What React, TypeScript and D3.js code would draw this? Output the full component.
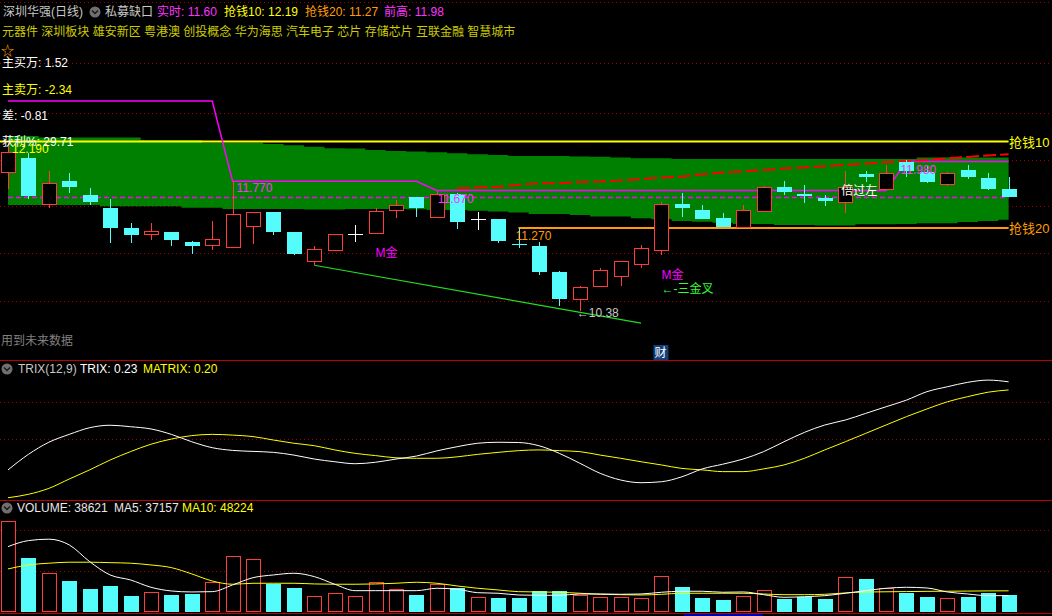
import React from "react";
import * as d3 from "d3";

// daily candles (50 sessions)
const opens = [11.87, 12.02, 11.53, 11.77, 11.62, 11.48, 11.27, 11.21, 11.23, 11.12, 11.09, 11.07, 11.295, 11.44, 11.23, 10.92, 11.03, 11.21, 11.22, 11.46, 11.605, 11.39, 11.63, 11.36, 11.37, 11.1, 11.08, 10.8, 10.51, 10.65, 10.76, 10.88, 11.03, 11.53, 11.46, 11.38, 11.28, 11.455, 11.71, 11.63, 11.59, 11.55, 11.85, 11.69, 11.98, 11.87, 11.74, 11.89, 11.805, 11.69];
const closes = [12.08, 11.61, 11.75, 11.71, 11.55, 11.27, 11.19, 11.24, 11.145, 11.08, 11.15, 11.42, 11.44, 11.23, 10.995, 11.04, 11.21, 11.21, 11.45, 11.52, 11.48, 11.63, 11.33, 11.36, 11.13, 11.09, 10.8, 10.51, 10.64, 10.82, 10.92, 11.05, 11.53, 11.48, 11.37, 11.28, 11.46, 11.71, 11.65, 11.61, 11.56, 11.71, 11.81, 11.86, 11.88, 11.76, 11.86, 11.82, 11.69, 11.6];
const highs = [12.19, 12.07, 11.88, 11.86, 11.7, 11.58, 11.32, 11.32, 11.23, 11.13, 11.345, 11.77, 11.44, 11.44, 11.23, 11.08, 11.21, 11.3, 11.48, 11.57, 11.605, 11.67, 11.64, 11.44, 11.37, 11.27, 11.12, 10.81, 10.65, 10.84, 10.92, 11.085, 11.55, 11.64, 11.52, 11.43, 11.51, 11.72, 11.77, 11.73, 11.62, 11.88, 11.88, 11.94, 12.0, 11.93, 11.87, 11.945, 11.86, 11.815];
const lows = [11.69, 11.58, 11.48, 11.645, 11.51, 11.11, 11.11, 11.145, 11.08, 10.995, 11.03, 11.05, 11.1, 11.195, 10.98, 10.874, 11.03, 11.12, 11.22, 11.38, 11.39, 11.38, 11.26, 11.25, 11.11, 11.06, 10.77, 10.43, 10.38, 10.64, 10.65, 10.845, 10.98, 11.39, 11.36, 11.28, 11.28, 11.455, 11.62, 11.54, 11.5, 11.43, 11.76, 11.69, 11.81, 11.75, 11.72, 11.795, 11.68, 11.6];

// green channel
const bandUpper = [12.255, 12.255, 12.237, 12.237, 12.237, 12.237, 12.237, 12.212, 12.212, 12.212, 12.183, 12.183, 12.183, 12.169, 12.155, 12.14, 12.123, 12.121, 12.105, 12.094, 12.089, 12.081, 12.07, 12.059, 12.052, 12.041, 12.041, 12.041, 12.036, 12.033, 12.025, 12.016, 12.016, 12.009, 12.009, 12.009, 12.009, 12.009, 12.009, 12.009, 12.009, 12.009, 12.009, 12.009, 12.009, 12.023, 12.023, 12.023, 12.023, 12.023];
const bandLower = [11.516, 11.516, 11.516, 11.516, 11.516, 11.502, 11.502, 11.502, 11.502, 11.487, 11.487, 11.473, 11.473, 11.473, 11.473, 11.466, 11.466, 11.473, 11.473, 11.473, 11.47, 11.463, 11.463, 11.455, 11.445, 11.434, 11.42, 11.42, 11.409, 11.391, 11.391, 11.374, 11.363, 11.345, 11.337, 11.324, 11.313, 11.313, 11.302, 11.302, 11.295, 11.295, 11.31, 11.31, 11.313, 11.32, 11.32, 11.334, 11.345, 11.356];

// 私募缺口 prior-high level
const priorHigh = [12.63, 12.63, 12.63, 12.63, 12.63, 12.63, 12.63, 12.63, 12.63, 12.63, 12.63, 11.77, 11.77, 11.77, 11.77, 11.77, 11.77, 11.77, 11.77, 11.77, 11.77, 11.67, 11.67, 11.67, 11.67, 11.67, 11.67, 11.67, 11.67, 11.67, 11.67, 11.67, 11.67, 11.67, 11.67, 11.67, 11.67, 11.67, 11.67, 11.67, 11.67, 11.67, 11.67, 11.67, 11.98, 11.98, 11.98, 11.98, 11.98, 11.98];

// red rising line, starts at session 22
const redStart = 22;
const redLine = [11.695, 11.704, 11.712, 11.73, 11.749, 11.749, 11.762, 11.766, 11.779, 11.791, 11.811, 11.819, 11.845, 11.864, 11.875, 11.891, 11.905, 11.918, 11.931, 11.945, 11.958, 11.973, 11.987, 11.998, 12.016, 12.03, 12.046, 12.059];

// green support line [session, price]
const supportLine: [number, number][] = [[15, 10.87], [31, 10.25]];

const mainGrid = [13.69, 13.04, 12.5, 12.0, 11.5, 11.0, 10.49];
const qiang10 = 12.19;
const qiang20 = 11.27;
const current = 11.6;

// TRIX(12,9)
const trix = [-0.124, -0.061, -0.012, 0.02, 0.047, 0.057, 0.051, 0.042, 0.02, -0.01, -0.034, -0.045, -0.049, -0.053, -0.064, -0.08, -0.091, -0.099, -0.093, -0.08, -0.068, -0.047, -0.03, -0.016, -0.012, -0.013, -0.026, -0.057, -0.097, -0.138, -0.165, -0.176, -0.172, -0.152, -0.12, -0.101, -0.08, -0.05, -0.01, 0.028, 0.058, 0.078, 0.105, 0.132, 0.159, 0.193, 0.213, 0.231, 0.24, 0.233];
const matrix = [-0.237, -0.223, -0.199, -0.161, -0.124, -0.084, -0.05, -0.02, 0.001, 0.015, 0.02, 0.017, 0.011, -0.003, -0.016, -0.026, -0.043, -0.057, -0.066, -0.075, -0.077, -0.077, -0.071, -0.061, -0.053, -0.046, -0.043, -0.046, -0.05, -0.064, -0.077, -0.091, -0.104, -0.118, -0.124, -0.131, -0.131, -0.12, -0.104, -0.077, -0.043, -0.01, 0.024, 0.058, 0.092, 0.123, 0.152, 0.173, 0.191, 0.2];
const trixGrid = [0, 0.15];

// volume
const volumes = [210500, 123500, 88800, 71000, 52500, 59400, 36300, 44900, 38600, 40900, 68000, 128100, 121200, 64800, 54800, 35600, 42600, 35600, 68000, 51800, 38600, 63400, 54100, 33300, 31700, 31700, 47900, 47900, 38600, 33300, 33300, 31000, 81900, 57100, 31700, 27100, 35600, 49500, 29400, 33300, 29400, 79600, 75600, 54100, 43900, 34000, 31000, 34000, 42600, 38621];
const volMa5 = [150300, 164200, 167500, 154300, 115600, 84900, 73300, 56400, 47900, 45600, 46300, 61800, 78600, 84900, 88800, 81000, 63400, 48600, 48600, 48600, 48600, 54100, 51800, 43900, 42600, 38600, 37900, 37900, 40900, 40900, 40200, 40900, 44900, 47200, 47200, 44900, 45600, 39300, 33300, 34700, 37000, 42600, 48600, 54100, 56400, 54800, 45600, 40900, 37000, 37157];
const volMa10 = [98800, 108000, 112000, 114300, 114300, 113300, 112000, 108000, 101800, 87200, 71000, 63400, 65700, 65700, 65700, 64100, 63400, 63400, 64100, 65700, 68000, 65700, 59400, 54100, 50200, 46300, 45600, 44900, 42600, 40200, 39300, 38600, 40200, 42600, 42600, 42600, 42600, 40900, 39300, 39300, 40200, 43300, 45500, 46000, 46500, 47000, 47300, 47600, 48000, 48224];
const volGrid = [94000, 188000];

const sectors = "元器件 深圳板块 雄安新区 粤港澳 创投概念 华为海思 汽车电子 芯片 存储芯片 互联金融 智慧城市";

const W = 1052;
const H = 616;
const FONT = "'Liberation Sans', 'Noto Sans CJK SC', sans-serif";
const RED = "#ff3c3c";
const CYAN = "#54fcfc";
const GRID = "#a80000";
const PANEL = "#c00000";
const MAGENTA = "#ff33ff";
const ORANGE = "#ff9c00";

const x = d3.scaleLinear().domain([0, 49]).range([8, 1008.6]);
const y = d3.scaleLinear().domain([10.38, 12.19]).range([311, 142]);
const yTrix = d3.scaleLinear().domain([0, 0.15]).range([439.3, 402.3]);
const yVol = d3.scaleLinear().domain([0, 94000]).range([611.7, 571]);

const cx = (i: number) => Math.round(x(i));
const px = (v: number) => Math.round(v) + 0.5;

const Txt = ({ x, y, fill, children, size = 12 }: any) => (
  <text x={x} y={y} fill={fill} fontSize={size} fontFamily={FONT}>
    {children}
  </text>
);

const Icon = ({ cx, cy }: { cx: number; cy: number }) => (
  <g>
    <circle cx={cx} cy={cy} r={5.5} fill="#707070" />
    <path d={`M${cx - 3},${cy - 1.5} L${cx},${cy + 1.5} L${cx + 3},${cy - 1.5}`} stroke="#1a1a1a" strokeWidth={1.4} fill="none" />
  </g>
);

const Candle = ({ i }: { i: number }) => {
  const o = opens[i], c = closes[i];
  const c0 = cx(i);
  const top = Math.round(y(Math.max(o, c)));
  const bot = Math.round(y(Math.min(o, c)));
  const hi = Math.round(y(highs[i]));
  const lo = Math.round(y(lows[i]));
  if (o === c) {
    return (
      <g stroke="#ffffff" strokeWidth={1}>
        <line x1={c0 + 0.5} x2={c0 + 0.5} y1={hi} y2={lo} />
        <line x1={c0 - 7} x2={c0 + 8} y1={top + 0.5} y2={top + 0.5} />
      </g>
    );
  }
  if (c > o) {
    return (
      <g stroke={RED} strokeWidth={1} fill="#000">
        {hi < top && <line x1={c0 + 0.5} x2={c0 + 0.5} y1={hi} y2={top} />}
        {lo > bot && <line x1={c0 + 0.5} x2={c0 + 0.5} y1={bot} y2={lo} />}
        <rect x={c0 - 6.5} y={top + 0.5} width={14} height={Math.max(1, bot - top)} />
      </g>
    );
  }
  return (
    <g>
      <line x1={c0 + 0.5} x2={c0 + 0.5} y1={hi} y2={lo} stroke={CYAN} />
      <rect x={c0 - 7} y={top} width={15} height={Math.max(1, bot - top)} fill={CYAN} />
    </g>
  );
};

const VolBar = ({ i }: { i: number }) => {
  const c0 = cx(i);
  const top = Math.round(yVol(volumes[i]));
  const bot = Math.round(yVol(0));
  if (closes[i] >= opens[i]) {
    return <rect x={c0 - 6.5} y={top + 0.5} width={14} height={bot - top - 1} fill="#000" stroke={RED} />;
  }
  return <rect x={c0 - 7} y={top} width={15} height={bot - top} fill={CYAN} />;
};

export default function App() {
  const idx = d3.range(opens.length);

  const band = d3
    .area<number>()
    .x((i) => x(i))
    .y0((i) => y(bandLower[i]))
    .y1((i) => y(bandUpper[i]))
    .curve(d3.curveStep)(idx);

  const priorPath = d3.line<number>().x((i) => x(i)).y((i) => y(priorHigh[i]))(idx);
  const redPath = d3
    .line<number>()
    .x((_, k) => x(redStart + k))
    .y((d) => y(d))(redLine);
  const supportPath = d3
    .line<[number, number]>()
    .x((d) => x(d[0]))
    .y((d) => y(d[1]))(supportLine);

  const trixPath = d3.line<number>().x((_, i) => x(i)).y((d) => yTrix(d)).curve(d3.curveMonotoneX)(trix);
  const matrixPath = d3.line<number>().x((_, i) => x(i)).y((d) => yTrix(d)).curve(d3.curveMonotoneX)(matrix);
  const ma5Path = d3.line<number>().x((_, i) => x(i)).y((d) => yVol(d)).curve(d3.curveMonotoneX)(volMa5);
  const ma10Path = d3.line<number>().x((_, i) => x(i)).y((d) => yVol(d)).curve(d3.curveMonotoneX)(volMa10);

  const xEnd = x(49);

  return (
    <svg
      width={W}
      height={H}
      style={{ position: "absolute", left: 0, top: 0, display: "block" }}
    >
      <rect width={W} height={H} fill="#000" />

      {/* grids */}
      <g stroke={GRID} strokeDasharray="1,3">
        {mainGrid.map((g) => (
          <line key={"m" + g} x1={0} x2={W} y1={px(y(g))} y2={px(y(g))} />
        ))}
        {trixGrid.map((g) => (
          <line key={"t" + g} x1={0} x2={W} y1={px(yTrix(g))} y2={px(yTrix(g))} />
        ))}
        {volGrid.map((g) => (
          <line key={"v" + g} x1={0} x2={W} y1={px(yVol(g))} y2={px(yVol(g))} />
        ))}
      </g>

      {/* main panel */}
      <path d={band || ""} fill="#008000" />
      <line x1={0} x2={xEnd} y1={y(qiang10) - 0.5} y2={y(qiang10) - 0.5} stroke="#ffff00" strokeWidth={2} />
      <line x1={x(25)} x2={xEnd} y1={y(qiang20)} y2={y(qiang20)} stroke={ORANGE} strokeWidth={2} />
      <line x1={x(0)} x2={xEnd} y1={px(y(current))} y2={px(y(current))} stroke="#ff00ff" strokeWidth={1.6} strokeDasharray="5,3" />
      <path d={priorPath || ""} fill="none" stroke="#ff00ff" strokeWidth={1.5} />
      <path d={redPath || ""} fill="none" stroke="#ff0000" strokeWidth={2} strokeDasharray="13,4" />
      <path d={supportPath || ""} fill="none" stroke="#22dd22" strokeWidth={1.2} />

      {idx.map((i) => (
        <Candle key={i} i={i} />
      ))}

      {/* annotations */}
      <Txt x={x(11) + 4} y={y(11.77) + 11} fill={MAGENTA}>11.770</Txt>
      <Txt x={x(21) + 1} y={y(11.67) + 12} fill={MAGENTA}>11.670</Txt>
      <Txt x={x(44) - 6} y={y(11.98) + 12} fill={MAGENTA}>11.980</Txt>
      <Txt x={x(25) - 3} y={y(qiang20) + 12} fill={ORANGE}>11.270</Txt>
      <Txt x={x(28) - 3} y={y(10.38) + 6} fill="#c8c8c8">←10.38</Txt>
      <Txt x={x(18)} y={257} fill="#ff00ff">M金</Txt>
      <Txt x={x(32)} y={279} fill="#ff00ff">M金</Txt>
      <Txt x={x(32)} y={293} fill="#33ff33">←-三金叉</Txt>
      <Txt x={x(41) - 4} y={y(11.6) - 2} fill="#ffffff">倍过左</Txt>
      <Txt x={x(0) + 4} y={153} fill="#ffff00">12.190</Txt>
      <Txt x={1009} y={147} fill="#ffff00" size={13}>抢钱10</Txt>
      <Txt x={1009} y={233} fill={ORANGE} size={13}>抢钱20</Txt>
      <rect x={x(32) - 8} y={345} width={15} height={15} fill="#123f7a" />
      <Txt x={x(32) - 7} y={357} fill="#ffffff">财</Txt>

      {/* header */}
      <Txt x={3} y={16} fill="#c8c8c8">深圳华强(日线)</Txt>
      <Icon cx={95} cy={12} />
      <Txt x={105} y={16} fill="#c8c8c8">私募缺口</Txt>
      <Txt x={157} y={16} fill="#ff33ff">实时: 11.60</Txt>
      <Txt x={224} y={16} fill="#ffff00">抢钱10: 12.19</Txt>
      <Txt x={305} y={16} fill={ORANGE}>抢钱20: 11.27</Txt>
      <Txt x={384} y={16} fill="#ff33ff">前高: 11.98</Txt>
      <Txt x={2} y={36} fill="#cccc00">{sectors}</Txt>
      <Txt x={1} y={55} fill={ORANGE} size={13}>☆</Txt>
      <Txt x={2} y={67} fill="#ffffff">主买万: 1.52</Txt>
      <Txt x={2} y={94} fill="#ffff00">主卖万: -2.34</Txt>
      <Txt x={2} y={120} fill="#ffffff">差: -0.81</Txt>
      <Txt x={2} y={146} fill="#ffffff">获利%: 29.71</Txt>
      <Txt x={1} y={345} fill="#808080">用到未来数据</Txt>

      {/* panel separators */}
      <line x1={0} x2={W} y1={360.5} y2={360.5} stroke={PANEL} />
      <line x1={0} x2={W} y1={500.5} y2={500.5} stroke={PANEL} />
      <line x1={0} x2={W} y1={613.5} y2={613.5} stroke={PANEL} />
      <rect x={684} y={614} width={79} height={2} fill="#0000a8" />

      {/* TRIX */}
      <path d={matrixPath || ""} fill="none" stroke="#ffff00" strokeWidth={1} />
      <path d={trixPath || ""} fill="none" stroke="#ffffff" strokeWidth={1} />
      <Icon cx={7} cy={369} />
      <Txt x={18} y={373} fill="#c8c8c8">TRIX(12,9)</Txt>
      <Txt x={80} y={373} fill="#ffffff">TRIX: 0.23</Txt>
      <Txt x={143} y={373} fill="#ffff00">MATRIX: 0.20</Txt>

      {/* volume */}
      {idx.map((i) => (
        <VolBar key={i} i={i} />
      ))}
      <path d={ma10Path || ""} fill="none" stroke="#ffff00" strokeWidth={1} />
      <path d={ma5Path || ""} fill="none" stroke="#ffffff" strokeWidth={1} />
      <Icon cx={7} cy={508} />
      <Txt x={17} y={512} fill="#e8e8e8">VOLUME: 38621</Txt>
      <Txt x={114} y={512} fill="#e8e8e8">MA5: 37157</Txt>
      <Txt x={182} y={512} fill="#ffff00">MA10: 48224</Txt>
    </svg>
  );
}
